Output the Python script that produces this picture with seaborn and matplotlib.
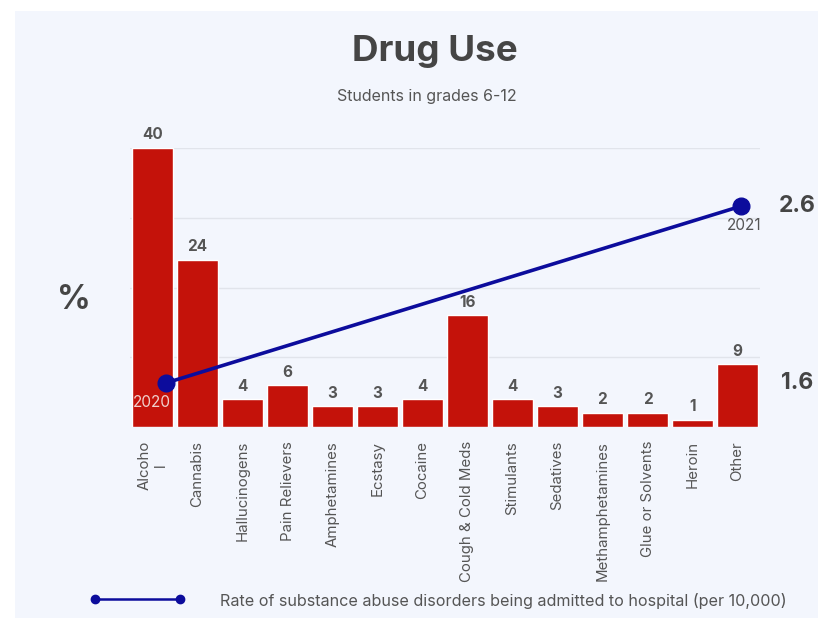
import matplotlib
matplotlib.use("Agg")
import matplotlib.pyplot as plt
import matplotlib.transforms as mtransforms
from matplotlib.patches import Rectangle
from matplotlib.lines import Line2D
import seaborn as sns
import pandas as pd

# Drug use among students (percent)
drugs = ["Alcoho\nl", "Cannabis", "Hallucinogens", "Pain Relievers", "Amphetamines",
         "Ecstasy", "Cocaine", "Cough & Cold Meds", "Stimulants", "Sedatives",
         "Methamphetamines", "Glue or Solvents", "Heroin", "Other"]
percent = [40, 24, 4, 6, 3, 3, 4, 16, 4, 3, 2, 2, 1, 9]

# Hospital admission rate (per 10,000)
years = [2020, 2021]
rate = [1.6, 2.6]

BG = "#f3f6fd"
RED = "#c4120a"
BLUE = "#0c0c9c"
TXT = "#555555"
DARK = "#454545"

sns.set_theme(style="white")
plt.rcParams["font.family"] = ["Inter", "DejaVu Sans"]

W, H = 818, 618
fig = plt.figure(figsize=(W / 100, H / 100), dpi=100)
fig.patch.set_facecolor("white")
fig.add_artist(Rectangle((15 / W, 0), 1 - 15 / W, 1 - 11 / H, transform=fig.transFigure,
                         facecolor=BG, edgecolor="none", zorder=-10))

# plotting area: x 130..760, y 148..427 (pixels from top)
rect = [130 / W, 1 - 427 / H, 630 / W, 279 / H]
ax = fig.add_axes(rect)
ax.set_facecolor("none")

df = pd.DataFrame({"drug": drugs, "percent": percent})
sns.barplot(data=df, x="drug", y="percent", color=RED, saturation=1, width=0.89,
            ax=ax, zorder=2)
ax.set_xlim(-0.5, len(drugs) - 0.5)
ax.set_ylim(0, 40)
ax.set_yticks([10, 20, 30, 40])
ax.yaxis.grid(True, color="#e1e4eb", linewidth=1)
ax.set_axisbelow(True)
ax.tick_params(axis="y", left=False, labelleft=False)
ax.tick_params(axis="x", bottom=False, pad=4)
ax.set_xticks(range(len(drugs)))
ax.set_xticklabels(drugs, rotation=90, fontsize=10.8, color=TXT, va="top", ha="center",
                   multialignment="center")
ax.set_xlabel("")
ax.set_ylabel("")
for s in ax.spines.values():
    s.set_visible(False)

for i, v in enumerate(percent):
    ax.annotate(f"{v}", (i, v), xytext=(0, 4), textcoords="offset points", ha="center",
                va="bottom", fontsize=11, fontweight="bold", color=TXT,
                annotation_clip=False)

# rate line on its own independent scale, overlaid on the bars
ax2 = fig.add_axes(rect, label="rate")
ax2.set_facecolor("none")
ax2.set_xlim(2019.9375, 2021.0322)
ax2.set_ylim(1.351, 2.928)
ax2.plot(years, rate, color=BLUE, linewidth=2.6, marker="o", markersize=12,
         solid_capstyle="round", zorder=5, clip_on=False)
ax2.axis("off")
lbl_2020 = mtransforms.ScaledTranslation(-0.14, -0.12, fig.dpi_scale_trans)
lbl_2021 = mtransforms.ScaledTranslation(0.03, -0.12, fig.dpi_scale_trans)
ax2.text(years[0], rate[0], "2020", ha="center", va="top", fontsize=11,
         color="#f0d0cc", transform=ax2.transData + lbl_2020)
ax2.text(years[1], rate[1], "2021", ha="center", va="top", fontsize=11,
         color=TXT, transform=ax2.transData + lbl_2021)
rt = mtransforms.blended_transform_factory(fig.transFigure, ax2.transData)
for r in rate:
    ax2.text(797 / W, r, f"{r}", ha="center", va="center", fontsize=16.5,
             fontweight="bold", color=DARK, transform=rt)

fig.text(74 / W, 1 - 300 / H, "%", ha="center", va="center", fontsize=24,
         fontweight="bold", color=DARK)

fig.text(435 / W, 1 - 52 / H, "Drug Use", ha="center", va="center", fontsize=26.5,
         fontweight="bold", color=DARK)
fig.text(427 / W, 1 - 97 / H, "Students in grades 6-12", ha="center", va="center",
         fontsize=11.5, color=TXT)

# legend
fig.add_artist(Line2D([95 / W, 180 / W], [1 - 599 / H, 1 - 599 / H],
                      transform=fig.transFigure, color=BLUE, linewidth=1.8,
                      marker="o", markersize=6))
fig.text(220 / W, 1 - 601 / H,
         "Rate of substance abuse disorders being admitted to hospital (per 10,000)",
         ha="left", va="center", fontsize=11.6, color=TXT)

fig.savefig("out.png", dpi=100, facecolor=fig.get_facecolor())
